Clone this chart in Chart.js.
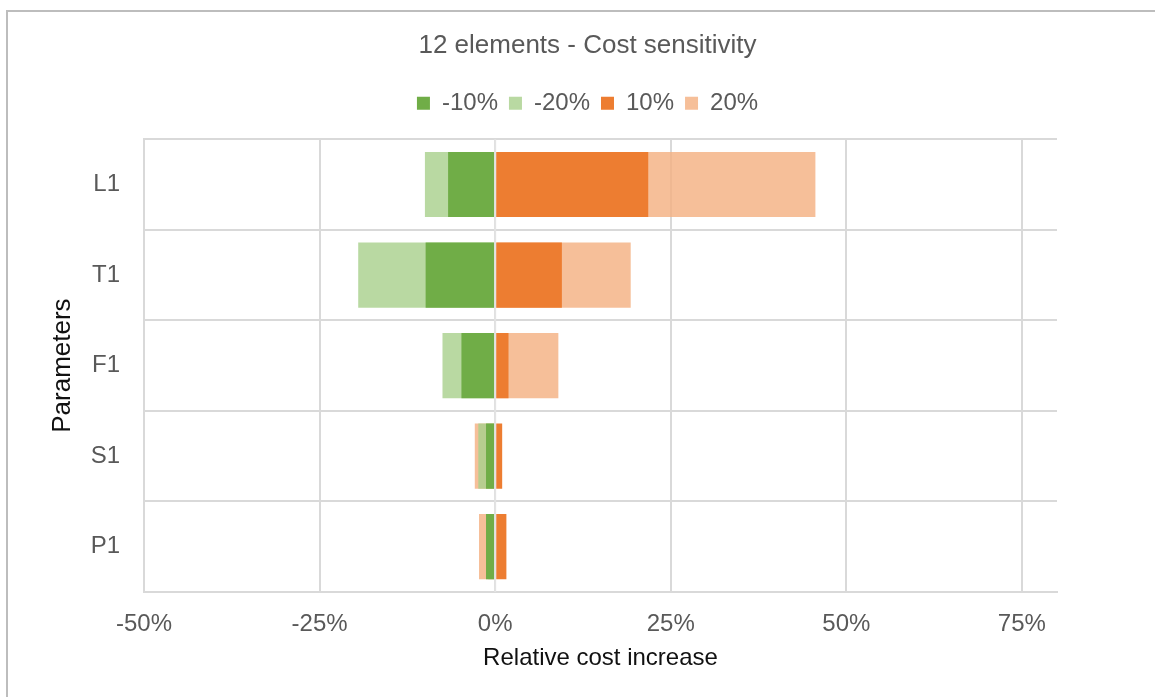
<!DOCTYPE html>
<html>
<head>
<meta charset="utf-8">
<script src="https://cdn.jsdelivr.net/npm/chart.js@4.4.0/dist/chart.umd.min.js"></script>
<style>
  html, body { margin: 0; padding: 0; background: #ffffff; }
  #wrap { position: relative; width: 1155px; height: 697px; overflow: hidden; }
  #frame { position: absolute; left: 6px; top: 10px; width: 1200px; height: 720px;
           border-left: 2px solid #BDBDBD; border-top: 2px solid #BDBDBD; box-sizing: border-box; }
  #c { position: absolute; left: 0; top: 0; }
</style>
</head>
<body>
<div id="wrap">
  <div id="frame"></div>
  <canvas id="c" width="1155" height="697"></canvas>
</div>
<script>
// Parameters on the vertical axis, top to bottom
const parameters = ['L1', 'T1', 'F1', 'S1', 'P1'];

// Relative cost increase (%) for each parameter change
const minus10 = [-6.7, -9.9, -4.8, -1.3, -1.3];
const minus20 = [-10.0, -19.5, -7.5, -2.4, -1.0];
const plus10  = [21.8, 9.5, 1.9, 1.0, 1.6];
const plus20  = [45.6, 19.3, 9.0, -2.9, -2.3];

// Axis range and tick step
const xMin = -50;
const xMax = 80;
const xStep = 25;

const FONT = "'Liberation Sans', Arial, sans-serif";
const GRID = '#D9D9D9';
const TEXT = '#595959';

// Extra room under the legend before the plot area
const legendGap = {
  id: 'legendGap',
  beforeInit(chart) {
    const lg = chart.legend;
    if (!lg) return;
    const fit = lg.fit;
    lg.fit = function () {
      fit.call(lg);
      this.height += 14;
    };
  }
};

// Zero line drawn over the bars
const zeroLine = {
  id: 'zeroLine',
  afterDatasetsDraw(chart) {
    const x = chart.scales.x.getPixelForValue(0);
    const { top, bottom } = chart.chartArea;
    const ctx = chart.ctx;
    ctx.save();
    ctx.strokeStyle = '#E3E3E3';
    ctx.lineWidth = 2;
    ctx.beginPath();
    ctx.moveTo(x, top);
    ctx.lineTo(x, bottom);
    ctx.stroke();
    ctx.restore();
  }
};

const barCommon = { grouped: false, categoryPercentage: 1.0, barPercentage: 0.72, borderWidth: 0 };

new Chart(document.getElementById('c'), {
  type: 'bar',
  data: {
    labels: parameters,
    datasets: [
      { label: '-10%', data: minus10, backgroundColor: '#70AD47', ...barCommon },
      { label: '-20%', data: minus20, backgroundColor: 'rgba(169,209,142,0.82)', ...barCommon },
      { label: '10%',  data: plus10,  backgroundColor: '#ED7D31', ...barCommon },
      { label: '20%',  data: plus20,  backgroundColor: 'rgba(244,177,131,0.82)', ...barCommon }
    ]
  },
  options: {
    indexAxis: 'y',
    responsive: false,
    animation: false,
    layout: { padding: { left: 20, right: 0, top: 0, bottom: 0 } },
    plugins: {
      title: {
        display: true,
        text: '12 elements - Cost sensitivity',
        color: TEXT,
        font: { family: FONT, size: 26, weight: 'normal' },
        padding: { top: 30, bottom: 19 }
      },
      legend: {
        display: true,
        position: 'top',
        labels: {
          color: TEXT,
          font: { family: FONT, size: 24 },
          boxWidth: 13,
          boxHeight: 13,
          padding: 11
        }
      },
      tooltip: { enabled: false }
    },
    scales: {
      x: {
        type: 'linear',
        min: xMin,
        max: xMax,
        grid: { color: GRID, lineWidth: 2, drawTicks: false },
        border: { color: GRID, width: 2 },
        ticks: {
          stepSize: xStep,
          includeBounds: false,
          color: TEXT,
          font: { family: FONT, size: 24 },
          padding: 18,
          callback: v => v + '%'
        },
        title: {
          display: true,
          text: 'Relative cost increase',
          color: '#111111',
          font: { family: FONT, size: 24 },
          padding: { top: 0, bottom: 24 }
        },
        afterFit(scale) { scale.height = 105; }
      },
      y: {
        type: 'category',
        grid: { color: GRID, lineWidth: 2, drawTicks: false, offset: true },
        border: { color: GRID, width: 2 },
        ticks: {
          color: TEXT,
          font: { family: FONT, size: 24 },
          padding: 24
        },
        title: {
          display: true,
          text: 'Parameters',
          color: '#111111',
          font: { family: FONT, size: 26 },
          padding: { top: 27, bottom: 0 }
        },
        afterFit(scale) { scale.width = 124; }
      },
      yRight: {
        type: 'category',
        position: 'right',
        labels: parameters,
        grid: { display: false },
        border: { display: false },
        ticks: { display: false },
        afterFit(scale) { scale.width = 98; }
      }
    }
  },
  plugins: [legendGap, zeroLine]
});
</script>
</body>
</html>
